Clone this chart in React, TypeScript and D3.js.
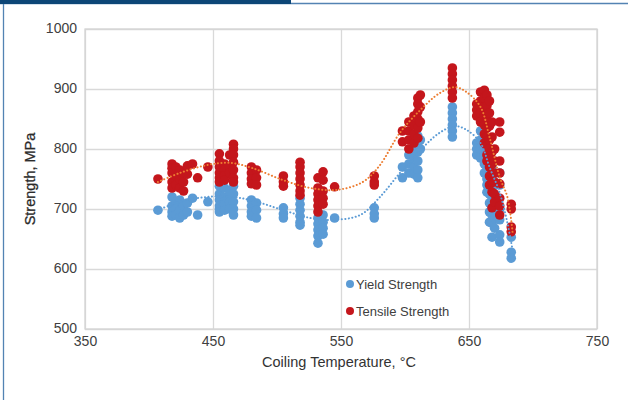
import React, { useEffect, useRef } from 'react';
import * as d3 from 'd3';

// each row: coiling temperature, strengths measured at that temperature
const yieldData: [number, number[]][] = [
  [407, [698]],
  [418, [720, 705, 695, 688]],
  [421, [712, 700, 690]],
  [424, [715, 698, 685]],
  [427, [705, 690]],
  [430, [710, 695]],
  [434, [718]],
  [438, [690]],
  [446, [712]],
  [455, [738, 725, 715, 705, 700, 695]],
  [459, [735, 720, 708, 698]],
  [463, [730, 712, 700]],
  [466, [738, 725, 712, 700, 690]],
  [480, [715, 705, 695, 688]],
  [484, [710, 698, 685]],
  [505, [702, 692, 685]],
  [518, [718, 708, 698, 688, 678, 673]],
  [532, [685, 675, 665, 655, 643]],
  [536, [690, 678, 668, 658]],
  [545, [685]],
  [576, [702, 692, 685]],
  [598, [770, 752]],
  [603, [790, 775, 760]],
  [607, [800, 785, 770, 758]],
  [610, [822, 810, 795, 780, 765, 752]],
  [612, [815, 800]],
  [637, [870, 860, 850, 840, 830, 820]],
  [656, [810, 800, 790]],
  [659, [830, 815, 800, 785]],
  [662, [835, 820, 805, 790, 775, 760]],
  [664, [810, 795, 780, 765, 750, 740, 728]],
  [666, [790, 772, 755, 740, 725, 710, 695, 678]],
  [668, [770, 750, 735, 720, 705, 690, 676, 653]],
  [670, [740, 720, 700, 685, 668]],
  [674, [760, 740, 700, 682, 657, 645]],
  [683, [653, 628, 618]],
];

const tensileData: [number, number[]][] = [
  [407, [750]],
  [418, [775, 768, 760, 745, 735]],
  [421, [770, 755, 740]],
  [424, [765, 750, 735]],
  [427, [760, 745, 730]],
  [430, [772, 758]],
  [434, [775]],
  [438, [752]],
  [446, [770]],
  [455, [792, 780, 770, 760, 752, 745]],
  [459, [775, 765, 755, 748]],
  [463, [790, 770, 760]],
  [466, [808, 800, 790, 778, 765, 752, 745]],
  [480, [770, 760, 750, 742]],
  [484, [765, 752, 740]],
  [505, [755, 745, 738]],
  [518, [778, 770, 760, 750, 740, 730, 723]],
  [532, [752, 735, 725, 715, 705, 695]],
  [536, [762, 748, 730, 718, 708]],
  [545, [737]],
  [576, [755, 745, 740]],
  [598, [830, 812]],
  [603, [845, 830, 815, 800]],
  [607, [855, 840, 825, 810]],
  [610, [885, 875, 862, 850, 835, 818]],
  [612, [890, 870, 845]],
  [637, [935, 925, 915, 905, 895, 885]],
  [656, [875, 865, 855]],
  [659, [895, 880, 870, 860, 845]],
  [662, [898, 885, 870, 855, 840, 825, 810]],
  [664, [890, 872, 850, 835, 820, 805, 790, 780]],
  [666, [880, 860, 838, 815, 800, 785, 770, 755, 740]],
  [668, [845, 820, 795, 775, 760, 745, 728, 702]],
  [670, [800, 780, 760, 745, 725, 712]],
  [674, [845, 828, 780, 760, 742, 718, 705, 690]],
  [683, [708, 700, 670, 662]],
];

// polynomial trend lines
const yieldTrend: [number, number][] = [
  [407, 698], [424, 712], [445, 720], [466, 720], [484, 712], [505, 698],
  [526, 685], [544, 682], [565, 690], [580, 719], [596, 760], [612, 798],
  [627, 827], [639, 838], [648, 832], [659, 810], [666, 770], [674, 727],
  [680, 677], [684, 632],
];

const tensileTrend: [number, number][] = [
  [407, 745], [424, 760], [445, 773], [463, 777], [481, 768], [505, 748],
  [526, 735], [547, 732], [567, 745], [580, 772], [596, 827], [612, 865],
  [627, 893], [639, 903], [648, 895], [659, 870], [666, 820], [674, 753],
  [680, 720], [684, 662],
];

const xTicks = [350, 450, 550, 650, 750];
const yTicks = [500, 600, 700, 800, 900, 1000];

const series = [
  { name: 'Yield Strength', data: yieldData, trend: yieldTrend, color: '#5b9bd5', line: '#5b9bd5' },
  { name: 'Tensile Strength', data: tensileData, trend: tensileTrend, color: '#c4161c', line: '#ed7d31' },
];

const App: React.FC = () => {
  const ref = useRef<SVGSVGElement>(null);

  useEffect(() => {
    if (!ref.current) return;
    const svg = d3.select(ref.current);
    svg.selectAll('*').remove();

    const width = 628;
    const height = 400;
    const margin = { top: 29, right: 31, bottom: 71, left: 85 };
    const innerWidth = width - margin.left - margin.right;
    const innerHeight = height - margin.top - margin.bottom;
    const font = '"Liberation Sans", Arial, sans-serif';

    // page frame
    svg.append('rect').attr('width', width).attr('height', height).attr('fill', '#fff');
    svg.append('line').attr('x1', 0).attr('x2', width).attr('y1', 3.5).attr('y2', 3.5)
      .attr('stroke', '#5383b3').attr('stroke-width', 1.3);
    svg.append('line').attr('x1', 3.5).attr('x2', 3.5).attr('y1', 0).attr('y2', height)
      .attr('stroke', '#5383b3').attr('stroke-width', 1.3);
    svg.append('rect').attr('x', 0).attr('y', 0).attr('width', 291).attr('height', 4).attr('fill', '#0d4677');

    const x = d3.scaleLinear().domain([350, 750]).range([0, innerWidth]);
    const y = d3.scaleLinear().domain([500, 1000]).range([innerHeight, 0]);

    const g = svg.append('g').attr('transform', `translate(${margin.left},${margin.top})`);

    // gridlines
    g.append('g')
      .call(d3.axisBottom(x).tickValues(xTicks).tickSize(innerHeight).tickFormat(() => ''))
      .call((s) => s.select('.domain').remove())
      .call((s) => s.selectAll('.tick line').attr('stroke', '#d9d9d9').attr('stroke-width', 1.3));
    g.append('g')
      .call(d3.axisLeft(y).tickValues(yTicks).tickSize(-innerWidth).tickFormat(() => ''))
      .call((s) => s.select('.domain').remove())
      .call((s) => s.selectAll('.tick line').attr('stroke', '#d9d9d9').attr('stroke-width', 1.3));
    g.append('rect').attr('width', innerWidth).attr('height', innerHeight)
      .attr('fill', 'none').attr('stroke', '#d4d4d4').attr('stroke-width', 1.3);

    // tick labels
    g.append('g')
      .attr('transform', `translate(0,${innerHeight})`)
      .call(d3.axisBottom(x).tickValues(xTicks).tickSize(0).tickPadding(7))
      .call((s) => s.select('.domain').remove())
      .call((s) => s.selectAll('.tick text').attr('fill', '#404040').attr('font-size', '14px').attr('font-family', font));
    g.append('g')
      .call(d3.axisLeft(y).tickValues(yTicks).tickFormat(d3.format('d')).tickSize(0).tickPadding(8))
      .call((s) => s.select('.domain').remove())
      .call((s) => s.selectAll('.tick text').attr('fill', '#404040').attr('font-size', '14px').attr('font-family', font).attr('dy', '0.25em'));

    // axis titles
    svg.append('text')
      .attr('x', margin.left + innerWidth / 2 - 2).attr('y', 367)
      .attr('text-anchor', 'middle').attr('fill', '#333').attr('font-size', '14.5px')
      .attr('font-family', font).text('Coiling Temperature, °C');
    svg.append('text')
      .attr('transform', `translate(35,${margin.top + innerHeight / 2}) rotate(-90)`)
      .attr('text-anchor', 'middle').attr('fill', '#2b2b2b').attr('font-size', '14.5px')
      .attr('font-family', font).attr('stroke', '#2b2b2b').attr('stroke-width', 0.3)
      .text('Strength, MPa');

    // points
    series.forEach((s) => {
      const pts = s.data.flatMap(([t, vals]) => vals.map((v) => [t, v] as [number, number]));
      g.append('g').selectAll('circle').data(pts).enter().append('circle')
        .attr('cx', (d) => x(d[0])).attr('cy', (d) => y(d[1])).attr('r', 4.8).attr('fill', s.color);
    });

    // dotted trend lines
    const line = d3.line<[number, number]>().x((d) => x(d[0])).y((d) => y(d[1])).curve(d3.curveCatmullRom);
    series.forEach((s) => {
      g.append('path').datum(s.trend).attr('d', line).attr('fill', 'none')
        .attr('stroke', s.line).attr('stroke-width', 2).attr('stroke-linecap', 'round')
        .attr('stroke-dasharray', '0.1,3.4');
    });

    // legend
    const legend = svg.append('g').attr('transform', 'translate(350,284)');
    series.forEach((s, i) => {
      const row = legend.append('g').attr('transform', `translate(0,${i * 27})`);
      row.append('circle').attr('r', 4).attr('fill', s.color);
      row.append('text').attr('x', 6).attr('dy', '0.36em').attr('fill', '#404040')
        .attr('font-size', '13px').attr('font-family', font).text(s.name);
    });
  }, []);

  return (
    <svg ref={ref} width={628} height={400} style={{ position: 'absolute', left: 0, top: 0 }} />
  );
};

export default App;
